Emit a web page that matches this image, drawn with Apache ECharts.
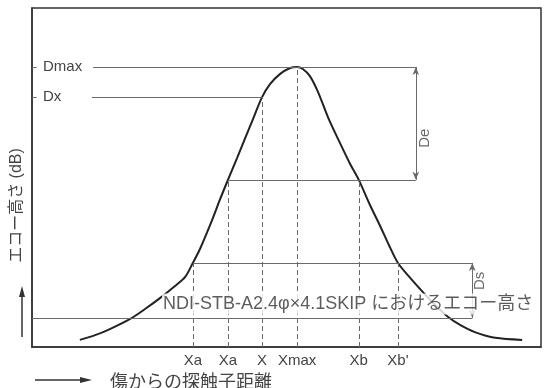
<!DOCTYPE html>
<html>
<head>
<meta charset="utf-8">
<script src="https://cdn.jsdelivr.net/npm/echarts@6/dist/echarts.min.js"></script>
<style>html,body{margin:0;padding:0;background:#fff}#c{width:546px;height:388px}</style>
</head>
<body>
<div id="c"></div>
<script>
// Echo height curve (schematic): x = probe distance from flaw, y = echo height
const curveX = [9.4, 12.4, 15.3, 19.3, 22.2, 25.2, 28.1, 30.1, 31.6, 33.0, 35.4, 36.9, 38.5, 40.3, 41.9, 43.6, 45.2, 46.8, 48.7, 50.7, 52.1, 53.2, 54.6, 56.2, 58.2, 60.5, 62.5, 64.2, 66.4, 68.4, 70.3, 71.9, 74.3, 76.8, 79.2, 81.7, 84.1, 87.0, 91.0, 96.3];
const curveY = [2.1, 3.5, 5.3, 8.3, 11.2, 14.5, 18.0, 20.7, 24.8, 28.9, 37.5, 43.4, 49.3, 55.8, 61.7, 67.9, 73.7, 77.6, 80.5, 82.3, 82.6, 82.0, 79.9, 75.2, 67.6, 60.2, 54.0, 49.3, 41.9, 35.7, 29.5, 24.8, 20.4, 16.2, 12.4, 8.9, 6.5, 4.4, 2.7, 2.1];

// Named levels on the echo-height axis
const levelNames = ['Dmax', 'Dx'];
const levelValues = [82.6, 73.7];
const deLow = 49.3;      // Dmax - De
const dsHigh = 24.8;     // reference + Ds
const refLevel = 8.6;    // NDI-STB-A2 reference echo height

// Named distances on the distance axis
const xNames = ['Xa', 'Xa', 'X', 'Xmax', 'Xb', "Xb'"];
const xValues = [31.6, 38.5, 45.2, 52.1, 64.2, 71.9];
const xHeights = [24.8, 49.3, 73.7, 82.6, 49.3, 24.8];

const deX = 75.4, dsX = 86.5;
const refLabel = 'NDI-STB-A2.4φ×4.1SKIP におけるエコー高さ';

const FONT = "'Liberation Sans', 'Noto Sans CJK JP', sans-serif";
const chart = echarts.init(document.getElementById('c'));

const gray = '#6a6a6a';
const hLines = [
  [[12.0, levelValues[0]], [deX, levelValues[0]]],
  [[11.8, levelValues[1]], [xValues[2], levelValues[1]]],
  [[xValues[1], deLow], [deX, deLow]],
  [[xValues[0], dsHigh], [dsX, dsHigh]],
  [[0, refLevel], [dsX, refLevel]],
  [[0, levelValues[0]], [0.9, levelValues[0]]],
  [[0, levelValues[1]], [0.9, levelValues[1]]]
];
const markH = hLines.map(p => [{coord: p[0]}, {coord: p[1]}]);
const markV = xValues.map((x, i) => [{coord: [x, 0]}, {coord: [x, xHeights[i]]}]);

chart.setOption({
  animation: false,
  backgroundColor: '#fff',
  grid: {left: 32, top: 8, width: 509, height: 339, show: true, borderColor: '#333', borderWidth: 1.5},
  title: {
    text: '傷からの探触子距離', left: 105, top: 369,
    textStyle: {fontFamily: FONT, fontSize: 18, fontWeight: 'normal', color: '#444'}
  },
  xAxis: {
    type: 'value', min: 0, max: 100,
    splitLine: {show: false},
    axisLine: {lineStyle: {color: '#333', width: 1.5}},
    axisTick: {show: false},
    axisLabel: {
      customValues: xValues, fontFamily: FONT, fontSize: 15, color: '#444', margin: 6,
      formatter: function (v) { const i = xValues.indexOf(v); return i >= 0 ? xNames[i] : ''; }
    }
  },
  yAxis: {
    type: 'value', min: 0, max: 100,
    splitLine: {show: false},
    axisLine: {lineStyle: {color: '#333', width: 1.5}},
    axisTick: {show: false},
    axisLabel: {
      inside: true, customValues: levelValues, fontFamily: FONT, fontSize: 15, color: '#444', margin: 11,
      formatter: function (v) { const i = levelValues.indexOf(v); return i >= 0 ? levelNames[i] : ''; }
    },
    name: 'エコー高さ (dB)', nameLocation: 'middle', nameRotate: 90, nameGap: -4,
    nameTextStyle: {fontFamily: FONT, fontSize: 16, color: '#444', padding: [0, 56, 0, 0]}
  },
  graphic: [
    {type: 'line', shape: {x1: 22, y1: 337, x2: 22, y2: 294}, style: {stroke: '#333', lineWidth: 1.5}},
    {type: 'polygon', shape: {points: [[22, 286], [19, 297], [25, 297]]}, style: {fill: '#333'}},
    {type: 'line', shape: {x1: 35, y1: 380, x2: 84, y2: 380}, style: {stroke: '#333', lineWidth: 1.5}},
    {type: 'polygon', shape: {points: [[92, 380], [80, 377], [80, 383]]}, style: {fill: '#333'}}
  ],
  series: [
    {
      type: 'line', data: [], silent: true, z: 1,
      markLine: {
        silent: true, symbol: 'none', label: {show: false},
        lineStyle: {color: gray, width: 1, type: 'solid'},
        data: markH
      }
    },
    {
      type: 'line', data: [], silent: true, z: 1,
      markLine: {
        silent: true, symbol: 'none', label: {show: false},
        lineStyle: {color: gray, width: 1, type: [5, 3]},
        data: markV
      }
    },
    {
      type: 'line', data: [], silent: true, z: 1,
      markLine: {
        silent: true, symbol: ['arrow', 'arrow'], symbolSize: [5, 8], label: {show: false},
        lineStyle: {color: gray, width: 1, type: 'solid'},
        data: [
          [{coord: [deX, levelValues[0]]}, {coord: [deX, deLow]}],
          [{coord: [dsX, dsHigh]}, {coord: [dsX, refLevel]}]
        ]
      }
    },
    {
      type: 'line', smooth: 0.3, symbol: 'none', z: 3,
      lineStyle: {color: '#222', width: 2},
      data: curveX.map((x, i) => [x, curveY[i]])
    },
    {
      type: 'scatter', symbolSize: 0, z: 10, silent: true,
      data: [
        {value: [62.1, 12.7], label: {show: true, position: 'inside', formatter: refLabel, fontSize: 18,
          backgroundColor: '#fff', padding: [2, 1, 1, 1], color: '#333', fontFamily: FONT}},
        {value: [77.2, 61.6], label: {show: true, position: 'inside', formatter: 'De', rotate: 90, fontSize: 15, color: '#444', fontFamily: FONT}},
        {value: [88.0, 19.5], label: {show: true, position: 'inside', formatter: 'Ds', rotate: 90, fontSize: 15, color: '#444', fontFamily: FONT}}
      ]
    }
  ]
});
</script>
</body>
</html>
